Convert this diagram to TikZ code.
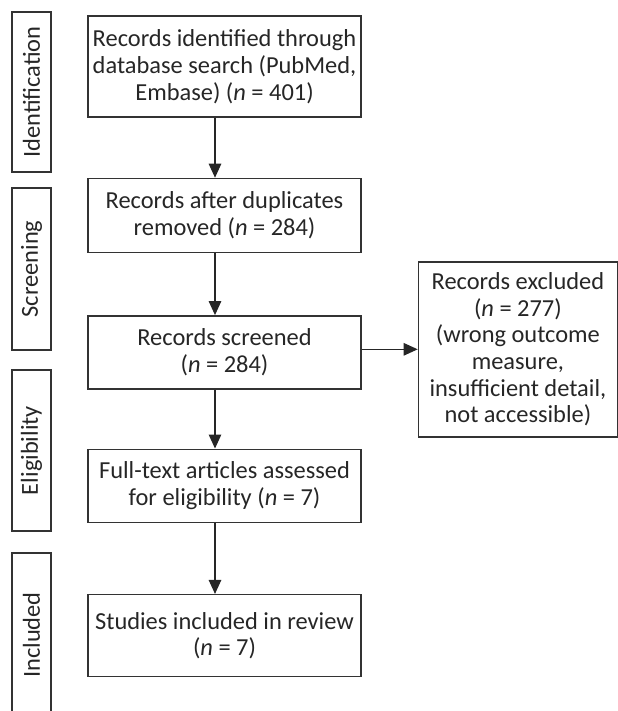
\documentclass[tikz,border=0pt]{standalone}
\usepackage{fontspec}
\setmainfont{Carlito}
\usetikzlibrary{arrows.meta,positioning}

\begin{document}
\begin{tikzpicture}[
    box/.style={draw=black!80, line width=0.8pt, align=center, inner sep=2pt,
        minimum width=5.46cm, text=black!85,
        font=\fontsize{13.9}{15.2}\selectfont},
    stage/.style={draw=black!80, line width=0.8pt, rotate=90, inner sep=0pt,
        minimum height=0.78cm, text=black!85,
        font=\fontsize{13.9}{15.2}\selectfont},
    arr/.style={-{Triangle[length=0.28cm,width=0.25cm]}, line width=0.7pt,
        draw=black!85}
]
\useasboundingbox (0,0) rectangle (12.34,-14.22);
% Stage boxes on the left
\node[stage, minimum width=3.2cm] (ident) at (0.63,-1.84) {Identification};
\node[stage, minimum width=3.24cm] (screen) at (0.63,-5.38) {Screening};
\node[stage, minimum width=3.22cm] (elig) at (0.63,-9.01) {Eligibility};
\node[stage, minimum width=3.28cm] (incl) at (0.63,-12.7) {Included};
% Flow boxes
\node[box, minimum height=2.02cm] (found) at (4.49,-1.33)
    {Records identified through\\database search (PubMed,\\Embase) (\textit{n} = 401)};
\node[box, minimum height=1.48cm, below=1.2cm of found] (dedup)
    {Records after duplicates\\removed (\textit{n} = 284)};
\node[box, minimum height=1.46cm, below=1.24cm of dedup] (screened)
    {Records screened\\(\textit{n} = 284)};
\node[box, minimum height=1.46cm, below=1.18cm of screened] (fulltext)
    {Full-text articles assessed\\for eligibility (\textit{n} = 7)};
\node[box, minimum height=1.64cm, below=1.42cm of fulltext] (included)
    {Studies included in review\\(\textit{n} = 7)};
\node[box, minimum width=3.98cm, minimum height=3.5cm,
    right=1.12cm of screened, yshift=0.06cm] (excluded)
    {Records excluded\\(\textit{n} = 277)\\(wrong outcome\\measure,\\insufficient detail,\\not accessible)};
% Arrows
\coordinate (mid) at (4.3,0);
\draw[arr] (found.south -| mid) -- (dedup.north -| mid);
\draw[arr] (dedup.south -| mid) -- (screened.north -| mid);
\draw[arr] (screened.south -| mid) -- (fulltext.north -| mid);
\draw[arr] (fulltext.south -| mid) -- (included.north -| mid);
\draw[arr] (screened.east |- excluded.west) -- (excluded.west);
\end{tikzpicture}
\end{document}
